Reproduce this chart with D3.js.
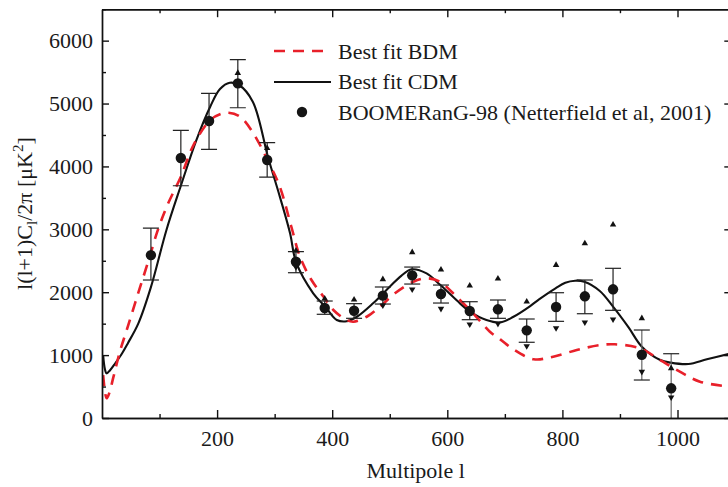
<!DOCTYPE html>
<html>
<head>
<meta charset="utf-8">
<script src="https://cdn.jsdelivr.net/npm/d3@7"></script>
<style>
  body { margin: 0; background: #fff; }
  svg text { font-family: "Liberation Serif", "Times New Roman", serif; fill: #1a1a1a; }
</style>
</head>
<body>
<div id="chart"></div>
<script>
var width = 728,
    height = 487;

// best fit curves (multipole l, l(l+1)C_l/2pi)
var cdmL = [2, 5, 8, 14, 23, 35, 45, 63, 85, 112, 137, 164, 188, 205, 222, 238, 262, 289, 309, 327, 337, 367, 388, 408, 425, 443, 471, 500, 520, 538, 564, 588, 622, 638, 668, 692, 715, 744, 760, 788, 805, 822, 838, 865, 888, 915, 938, 970, 988, 1019, 1051, 1090];
var cdmC = [1000, 780, 710, 760, 870, 1030, 1190, 1500, 2080, 2990, 3693, 4420, 4950, 5230, 5330, 5295, 5030, 4130, 3520, 2930, 2485, 1983, 1770, 1558, 1537, 1610, 1823, 2087, 2260, 2364, 2300, 2114, 1823, 1700, 1558, 1520, 1610, 1780, 1890, 2062, 2150, 2183, 2167, 2020, 1770, 1440, 1134, 922, 880, 858, 933, 1020];

var bdmL = [2, 5, 8, 12, 20, 31, 43, 60, 80, 98, 115, 137, 159, 188, 205, 220, 240, 263, 289, 309, 329, 344, 364, 385, 402, 425, 437, 460, 483, 509, 541, 564, 587, 616, 645, 674, 692, 715, 750, 784, 825, 865, 891, 935, 970, 1004, 1039, 1090];
var bdmC = [680, 430, 313, 380, 657, 1054, 1400, 1900, 2480, 3015, 3413, 3837, 4340, 4738, 4830, 4854, 4790, 4526, 4075, 3677, 3041, 2564, 2194, 1928, 1717, 1558, 1531, 1610, 1770, 1983, 2167, 2221, 2167, 1928, 1664, 1372, 1250, 1090, 935, 975, 1081, 1160, 1172, 1108, 922, 736, 577, 500];

// BOOMERanG-98 band powers
var ell   = [85, 137, 186, 236, 287, 337, 387, 438, 488, 539, 589, 639, 688, 738, 789, 839, 888, 938, 989];
var cl    = [2590, 4134, 4722, 5321, 4102, 2485, 1749, 1706, 1945, 2268, 1971, 1701, 1728, 1394, 1765, 1935, 2046, 1006, 472];
var errHi = [3020, 4574, 5162, 5697, 4377, 2644, 1860, 1818, 2083, 2400, 2114, 1849, 1876, 1574, 1992, 2194, 2380, 1399, 1022];
var errLo = [2194, 3693, 4272, 4933, 3831, 2310, 1649, 1585, 1812, 2130, 1828, 1563, 1585, 1204, 1537, 1658, 1712, 604, 0];
var upMark   = [null, null, null, 5485, 4290, 2660, 1897, 1881, 2205, 2634, 2358, 2103, 2215, 1849, 2432, 2777, 3073, 1585, 790];
var downMark = [null, null, null, null, null, 2400, null, null, 1792, 2046, 1738, 1490, 1499, 1145, 1431, 1521, 1569, 736, 329];

var xTicks = [200, 400, 600, 800, 1000];
var xMinor = [100, 300, 500, 700, 900];
var yTicks = [0, 1000, 2000, 3000, 4000, 5000, 6000];
var yMinor = [500, 1500, 2500, 3500, 4500, 5500, 6500];

var legendLabels = ["Best fit BDM", "Best fit CDM", "BOOMERanG-98 (Netterfield et al, 2001)"];

var svg = d3.select("#chart")
  .append("svg")
  .attr("width", width)
  .attr("height", height);

var x = d3.scaleLinear().domain([0, 1090]).range([102, 729.3]);
var y = d3.scaleLinear().domain([0, 6500]).range([418, 9.2]);

svg.append("defs").append("clipPath").attr("id", "plot")
  .append("rect")
  .attr("x", x(0)).attr("y", y(6500))
  .attr("width", x(1090) - x(0)).attr("height", y(0) - y(6500));

var plot = svg.append("g").attr("clip-path", "url(#plot)");

var line = d3.line()
  .x(function(d) { return x(d[0]); })
  .y(function(d) { return y(d[1]); })
  .curve(d3.curveCatmullRom.alpha(0.5));

plot.append("path")
  .datum(d3.zip(cdmL, cdmC))
  .attr("d", line)
  .attr("fill", "none")
  .attr("stroke", "#111")
  .attr("stroke-width", 2.1);

plot.append("path")
  .datum(d3.zip(bdmL, bdmC))
  .attr("d", line)
  .attr("fill", "none")
  .attr("stroke", "#e8202a")
  .attr("stroke-width", 2.6)
  .attr("stroke-dasharray", "11,8");

// error bars
var pts = ell.map(function(l, i) {
  return { l: l, c: cl[i], hi: errHi[i], lo: errLo[i], up: upMark[i], down: downMark[i] };
});

var bars = plot.selectAll(".err").data(pts).enter().append("g").attr("class", "err");

bars.append("line")
  .attr("x1", function(d) { return x(d.l); })
  .attr("x2", function(d) { return x(d.l); })
  .attr("y1", function(d) { return y(d.hi); })
  .attr("y2", function(d) { return y(d.lo); })
  .attr("stroke", function(d) { return d.l > 900 ? "#666" : "#222"; })
  .attr("stroke-width", 1.2);

bars.append("line")
  .attr("x1", function(d) { return x(d.l) - 8; })
  .attr("x2", function(d) { return x(d.l) + 8; })
  .attr("y1", function(d) { return y(d.hi); })
  .attr("y2", function(d) { return y(d.hi); })
  .attr("stroke", "#222")
  .attr("stroke-width", 1.2);

bars.filter(function(d) { return d.lo > 0; }).append("line")
  .attr("x1", function(d) { return x(d.l) - 8; })
  .attr("x2", function(d) { return x(d.l) + 8; })
  .attr("y1", function(d) { return y(d.lo); })
  .attr("y2", function(d) { return y(d.lo); })
  .attr("stroke", "#222")
  .attr("stroke-width", 1.2);

var tri = d3.symbol().type(d3.symbolTriangle).size(18);

plot.selectAll(".up").data(pts.filter(function(d) { return d.up != null; }))
  .enter().append("path")
  .attr("d", tri)
  .attr("transform", function(d) { return "translate(" + x(d.l) + "," + y(d.up) + ")"; })
  .attr("fill", "#111");

plot.selectAll(".down").data(pts.filter(function(d) { return d.down != null; }))
  .enter().append("path")
  .attr("d", tri)
  .attr("transform", function(d) { return "translate(" + x(d.l) + "," + y(d.down) + ") rotate(180)"; })
  .attr("fill", "#111");

plot.selectAll(".dot").data(pts)
  .enter().append("circle")
  .attr("cx", function(d) { return x(d.l); })
  .attr("cy", function(d) { return y(d.c); })
  .attr("r", 5.2)
  .attr("fill", "#151515");

// axes
function styleAxis(g) {
  g.selectAll("path, line").attr("stroke", "#111").attr("stroke-width", 1.4);
  g.selectAll("text").attr("font-size", "22px").attr("font-family", "Liberation Serif").attr("fill", "#1a1a1a");
}

svg.append("g").attr("transform", "translate(0," + y(0) + ")")
  .call(d3.axisBottom(x).tickValues(xTicks).tickSize(-8).tickSizeOuter(0).tickPadding(12).tickFormat(d3.format("d")))
  .call(styleAxis);
svg.append("g").attr("transform", "translate(0," + y(0) + ")")
  .call(d3.axisBottom(x).tickValues(xMinor).tickSize(-4).tickSizeOuter(0).tickFormat(""))
  .call(styleAxis);

svg.append("g").attr("transform", "translate(0," + y(6500) + ")")
  .call(d3.axisTop(x).tickValues(xTicks).tickSize(-8).tickSizeOuter(0).tickFormat(""))
  .call(styleAxis);
svg.append("g").attr("transform", "translate(0," + y(6500) + ")")
  .call(d3.axisTop(x).tickValues(xMinor).tickSize(-4).tickSizeOuter(0).tickFormat(""))
  .call(styleAxis);

svg.append("g").attr("transform", "translate(" + x(0) + ",0)")
  .call(d3.axisLeft(y).tickValues(yTicks).tickSize(-7).tickSizeOuter(0).tickPadding(9).tickFormat(d3.format("d")))
  .call(styleAxis);
svg.append("g").attr("transform", "translate(" + x(0) + ",0)")
  .call(d3.axisLeft(y).tickValues(yMinor).tickSize(-4).tickSizeOuter(0).tickFormat(""))
  .call(styleAxis);

svg.append("g").attr("transform", "translate(" + x(1090) + ",0)")
  .call(d3.axisRight(y).tickValues(yTicks).tickSize(-5).tickSizeOuter(0).tickFormat(""))
  .call(styleAxis);

// axis titles
svg.append("text")
  .attr("x", (x(0) + x(1090)) / 2)
  .attr("y", 478)
  .attr("text-anchor", "middle")
  .attr("font-size", "22px")
  .text("Multipole l");

var yt = svg.append("text")
  .attr("transform", "translate(32," + (y(0) + y(6500)) / 2 + ") rotate(-90)")
  .attr("text-anchor", "middle")
  .attr("font-size", "22px");
yt.append("tspan").text("l(l+1)C");
yt.append("tspan").attr("font-size", "15px").attr("dy", 5).text("l");
yt.append("tspan").attr("dy", -5).text("/2\u03c0 [\u03bcK");
yt.append("tspan").attr("font-size", "15px").attr("dy", -9).text("2");
yt.append("tspan").attr("dy", 9).text("]");

// legend
var lg = svg.append("g");
lg.append("line").attr("x1", 274).attr("x2", 328).attr("y1", 51).attr("y2", 51)
  .attr("stroke", "#e8202a").attr("stroke-width", 2.6).attr("stroke-dasharray", "11,8");
lg.append("line").attr("x1", 274).attr("x2", 331).attr("y1", 82).attr("y2", 82)
  .attr("stroke", "#111").attr("stroke-width", 2.1);
lg.append("circle").attr("cx", 302).attr("cy", 112).attr("r", 5.2).attr("fill", "#151515");

lg.selectAll(".lt").data(legendLabels).enter().append("text")
  .attr("x", 338)
  .attr("y", function(d, i) { return 51 + i * 30.5; })
  .attr("dy", "0.35em")
  .attr("font-size", "22px")
  .text(function(d) { return d; });
</script>
</body>
</html>
